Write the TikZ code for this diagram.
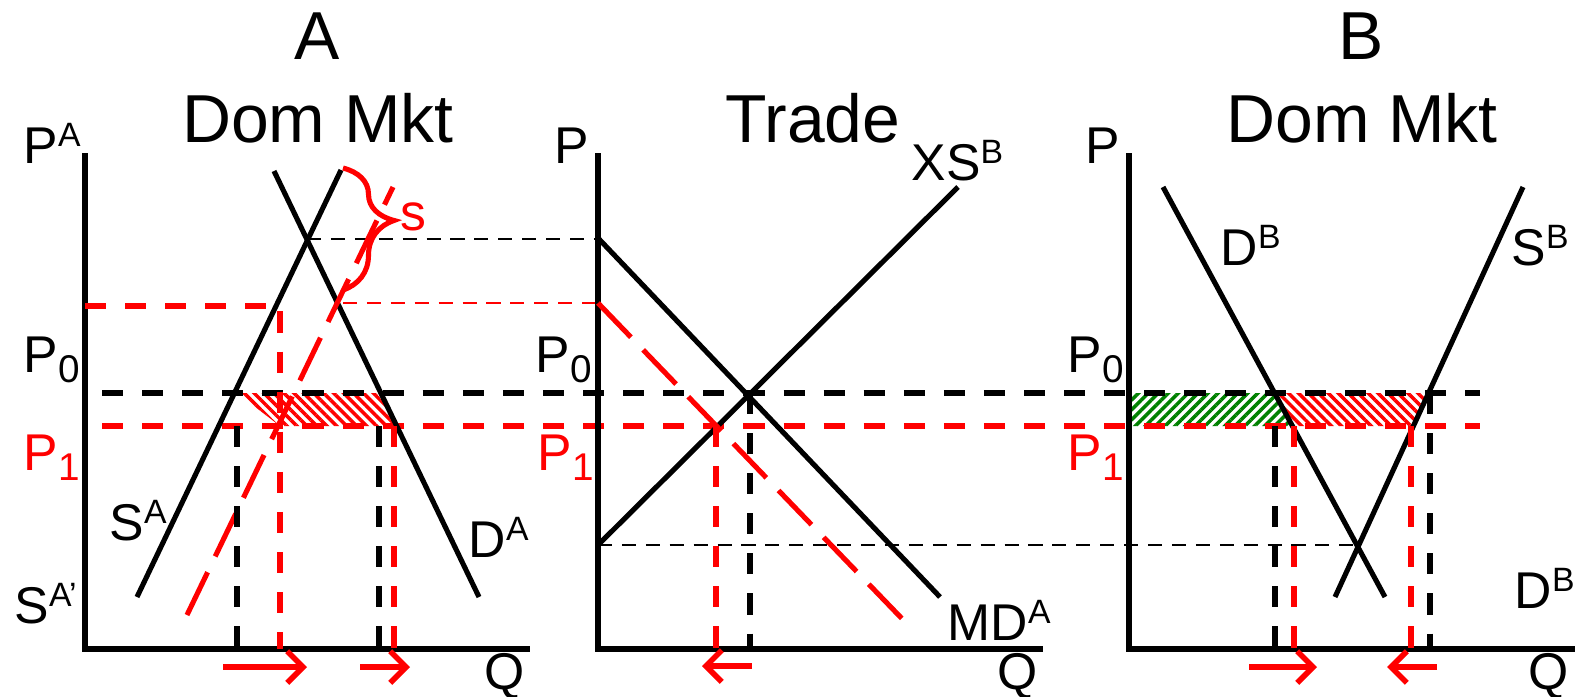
\documentclass[tikz,border=0pt]{standalone}
\usepackage{fontspec}
\setmainfont{Liberation Sans}
\usepackage{xcolor}
\usepackage{tikz}
\usetikzlibrary{arrows.meta,decorations.pathreplacing,patterns.meta}
\definecolor{policy}{HTML}{FF0000}
\definecolor{gain}{HTML}{008000}
\tikzset{
  axisline/.style={line width=1.5pt, draw=black},
  curve/.style={line width=1.45pt, draw=black},
  newcurve/.style={line width=1.45pt, draw=policy, dash pattern=on 13.5pt off 5pt},
  pricebar/.style={line width=1.45pt, dash pattern=on 6pt off 5.4pt},
  qdrop/.style={line width=1.45pt, dash pattern=on 6pt off 5.4pt},
  guide/.style={line width=0.75pt, dash pattern=on 4pt off 2.8pt},
  move/.style={line width=1.6pt, draw=policy, -{Straight Barb[length=4.5pt,width=9pt]}},
  lossfill/.style={pattern={Lines[angle=-45,distance=2pt,line width=1pt]}, pattern color=policy},
  gainfill/.style={pattern={Lines[angle=45,distance=2pt,line width=1pt]}, pattern color=gain},
  lbl/.style={inner sep=0pt, anchor=base west, font=\fontsize{14.7}{16}\selectfont},
  paneltitle/.style={inner sep=0pt, anchor=base, font=\fontsize{19.3}{21}\selectfont}
}
\newcommand{\upidx}[1]{\raisebox{4.6pt}{\fontsize{9.6}{10}\selectfont #1}}
\newcommand{\lowidx}[1]{\raisebox{-3pt}{\fontsize{11}{12}\selectfont #1}}

\begin{document}
\begin{tikzpicture}[x=0.01cm,y=-0.01cm]
\useasboundingbox (0,0) rectangle (1579,696);

% shaded bands
\fill[lossfill] (237,393) -- (377,393) -- (398,426) -- (280,426) -- cycle;
\fill[gainfill] (1127,393) -- (1275,393) -- (1293,426) -- (1127,426) -- cycle;
\fill[lossfill] (1275,393) -- (1428,393) -- (1413,426) -- (1293,426) -- cycle;

% titles
\node[paneltitle] (ttlA) at (317,59) {A};
\node[paneltitle] (mktA) at (318,142) {Dom Mkt};
\node[paneltitle] (ttlT) at (813,142) {Trade};
\node[paneltitle] (ttlB) at (1361,59) {B};
\node[paneltitle] (mktB) at (1362,142) {Dom Mkt};

% price lines across the panels
\draw[pricebar] (102,393) -- (1480,393);
\draw[pricebar, policy] (102,426) -- (1480,426);
\draw[guide] (307,239) -- (598,239);
\draw[guide, policy] (343,303) -- (598,303);
\draw[guide] (598,545) -- (1358,545);

% panel A
\draw[axisline] (85,153) -- (85,649) -- (530,649);
\draw[curve] (137,597) -- (341,170);
\draw[curve] (274,171) -- (479,597);
\draw[newcurve] (187,615) -- (393,187);
\draw[qdrop, policy] (85,306) -| (280,649);
\draw[qdrop] (237,426) -- (237,649);
\draw[qdrop] (379,426) -- (379,649);
\draw[qdrop, policy] (394,426) -- (394,649);
\draw[line width=1.45pt, policy, decorate,
  decoration={brace, amplitude=14.5pt, aspect=0.43}] (343,168) -- (343,290);
\draw[move] (223,667) -- (307,667);
\draw[move] (360,667) -- (410,667);

\node[lbl] (pA) at (23,163) {P\upidx{A}};
\node[lbl] (p0A) at (23,372) {P\lowidx{0}};
\node[lbl, text=policy] (p1A) at (23,470) {P\lowidx{1}};
\node[lbl] (sA) at (109,540) {S\upidx{A}};
\node[lbl] (sAp) at (14,623) {S\upidx{A’}};
\node[lbl] (dA) at (468,557) {D\upidx{A}};
\node[lbl] (qA) at (484,689) {Q};
\node[lbl, text=policy] (subs) at (400,230) {s};

% trade panel
\draw[axisline] (598,153) -- (598,649) -- (1043,649);
\draw[curve] (598,238) -- (940,597);
\draw[curve] (598,545) -- (958,187);
\draw[newcurve] (598,303) -- (911,628);
\draw[qdrop] (750,393) -- (750,649);
\draw[qdrop, policy] (716,426) -- (716,649);
\draw[move] (752,666) -- (702,666);

\node[lbl] (pT) at (554,163) {P};
\node[lbl] (p0T) at (535,372) {P\lowidx{0}};
\node[lbl, text=policy] (p1T) at (537,470) {P\lowidx{1}};
\node[lbl] (xsB) at (911,180) {XS\upidx{B}};
\node[lbl] (mdA) at (947,640) {MD\upidx{A}};
\node[lbl] (qT) at (997,689) {Q};

% panel B
\draw[axisline] (1129,153) -- (1129,649) -- (1575,649);
\draw[curve] (1163,187) -- (1385,597);
\draw[curve] (1523,187) -- (1335,597);
\draw[qdrop] (1275,426) -- (1275,649);
\draw[qdrop, policy] (1294,426) -- (1294,649);
\draw[qdrop, policy] (1411,426) -- (1411,649);
\draw[qdrop] (1430,393) -- (1430,649);
\draw[move] (1249,667) -- (1317,667);
\draw[move] (1437,667) -- (1387,667);

\node[lbl] (pB) at (1085,163) {P};
\node[lbl] (p0B) at (1067,372) {P\lowidx{0}};
\node[lbl, text=policy] (p1B) at (1067,470) {P\lowidx{1}};
\node[lbl] (dBup) at (1220,265) {D\upidx{B}};
\node[lbl] (sB) at (1511,265) {S\upidx{B}};
\node[lbl] (dBlo) at (1514,608) {D\upidx{B}};
\node[lbl] (qB) at (1528,689) {Q};

\end{tikzpicture}
\end{document}
